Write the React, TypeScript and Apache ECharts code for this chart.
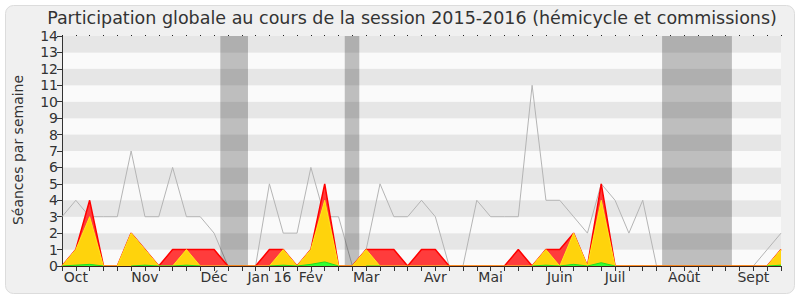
import React, { useEffect, useRef } from "react";
import * as echarts from "echarts";

const weeks: number[] = Array.from({ length: 53 }, (_, i) => i);

const totalSeances: number[] = [3, 4, 3, 3, 3, 7, 3, 3, 6, 3, 3, 2, 0, 0, 0, 5, 2, 2, 6, 3, 3, 0, 1, 5, 3, 3, 4, 3, 0, 0, 4, 3, 3, 3, 11, 4, 4, 3, 2, 5, 4, 2, 4, 0, 0, 0, 0, 0, 0, 0, 0, 1, 2];
const presences: number[] = [0, 1, 4, 0, 0, 2, 1, 0, 1, 1, 1, 1, 0, 0, 0, 1, 1, 0, 1, 5, 0, 0, 1, 1, 1, 0, 1, 1, 0, 0, 0, 0, 0, 1, 0, 1, 1, 2, 0, 5, 0, 0, 0, 0, 0, 0, 0, 0, 0, 0, 0, 0, 1];
const participations: number[] = [0, 1, 3, 0, 0, 2, 1, 0, 0, 1, 0, 0, 0, 0, 0, 0, 1, 0, 1, 4, 0, 0, 1, 0, 0, 0, 0, 0, 0, 0, 0, 0, 0, 0, 0, 1, 0, 2, 0, 4, 0, 0, 0, 0, 0, 0, 0, 0, 0, 0, 0, 0, 1];
const questions: (number | null)[] = [0, 0.05, 0.1, 0, null, 0, 0.05, 0, 0, 0.05, 0, null, null, null, null, 0, 0.05, 0, 0.1, 0.25, 0, null, 0, 0, null, null, null, null, null, null, null, null, null, null, 0, 0.05, 0, 0.1, 0, 0.2, 0, null, null, null, null, null, null, null, null, null, null, 0, 0.05];

const monthLabels: string[] = ["Oct", "Nov", "Déc", "Jan 16", "Fév", "Mar", "Avr", "Mai", "Juin", "Juil", "Août", "Sept"];
const monthIdx: number[] = [1, 6, 11, 15, 18, 22, 27, 31, 36, 40, 45, 50];

const vacances: [number, number][] = [[11.45, 13.45], [20.45, 21.5], [43.4, 48.45]];

const FONT = "DejaVu Sans";

export default function App() {
  const ref = useRef<HTMLDivElement>(null);
  useEffect(() => {
    if (!ref.current) return;
    const chart = echarts.init(ref.current, null, { renderer: "svg" });
    const pts = (arr: (number | null)[]) => weeks.map((w, i) => [w, arr[i]]);
    const labelMap: Record<number, string> = {};
    monthIdx.forEach((m, k) => (labelMap[m] = monthLabels[k]));
    chart.setOption({
      animation: false,
      backgroundColor: "#ffffff",
      textStyle: { fontFamily: FONT },
      grid: { left: 62, right: 19, top: 36, bottom: 34 },
      graphic: [
        {
          type: "rect",
          shape: { x: 5.5, y: 5.5, width: 789, height: 288, r: 8 },
          style: { fill: "#f0f0f0", stroke: "#dcdcdc", lineWidth: 1 },
          z: -10,
          silent: true,
        },
        {
          type: "text",
          x: 412,
          y: 18,
          style: {
            text: "Participation globale au cours de la session 2015-2016 (hémicycle et commissions)",
            font: `17.5px '${FONT}'`,
            fill: "#333333",
            textAlign: "center",
            textVerticalAlign: "middle",
          },
          z: 10,
        },
        {
          type: "text",
          x: 18,
          y: 150,
          rotation: Math.PI / 2,
          style: {
            text: "Séances par semaine",
            font: `14px '${FONT}'`,
            fill: "#333333",
            textAlign: "center",
            textVerticalAlign: "middle",
          },
          z: 10,
        },
      ],
      xAxis: [
        {
          type: "value",
          min: 0,
          max: 52,
          interval: 1,
          z: 10,
          axisLine: { show: true, lineStyle: { color: "#3a2018", width: 1 } },
          axisTick: { show: true, length: 5, lineStyle: { color: "#333333" } },
          splitLine: { show: false },
          axisLabel: {
            show: true,
            interval: 0,
            margin: 4,
            color: "#333333",
            fontSize: 14,
            fontFamily: FONT,
            formatter: (v: number) => labelMap[v] ?? "",
          },
        },
        {
          type: "value",
          position: "top",
          min: 0,
          max: 52,
          interval: 1,
          axisLine: { show: false },
          axisTick: { show: true, length: 1, lineStyle: { color: "#222222" } },
          splitLine: { show: false },
          axisLabel: { show: false },
        },
      ],
      yAxis: {
        type: "value",
        min: 0,
        max: 14,
        interval: 1,
        axisLine: { show: true, lineStyle: { color: "#333333" } },
        axisTick: { show: true, length: 5, lineStyle: { color: "#333333" } },
        axisLabel: { color: "#333333", fontSize: 14, fontFamily: FONT, margin: 4 },
        splitLine: { show: false },
        splitArea: { show: true, areaStyle: { color: ["#fafafa", "#e6e6e6"] } },
      },
      series: [
        {
          type: "line",
          name: "Séances",
          data: pts(totalSeances),
          symbol: "none",
          z: 1,
          lineStyle: { color: "#b4b4b4", width: 1 },
        },
        {
          type: "line",
          name: "vacances",
          data: [],
          z: 2,
          markArea: {
            silent: true,
            z: 2,
            itemStyle: { color: "rgba(0,0,0,0.24)" },
            data: vacances.map(([a, b]) => [{ xAxis: a }, { xAxis: b }]),
          },
        },
        {
          type: "line",
          name: "Présences",
          data: pts(presences),
          symbol: "none",
          z: 3,
          lineStyle: { color: "#ff0000", width: 1.5 },
          areaStyle: { color: "#ff3c3c", opacity: 1 },
        },
        {
          type: "line",
          name: "Participations",
          data: pts(participations),
          symbol: "none",
          z: 4,
          lineStyle: { color: "#ffe81a", width: 1 },
          areaStyle: { color: "#ffd30c", opacity: 1 },
        },
        {
          type: "line",
          name: "Questions",
          data: pts(questions),
          symbol: "none",
          z: 5,
          connectNulls: false,
          lineStyle: { color: "#22dd22", width: 1 },
          areaStyle: { color: "#33ff33", opacity: 1 },
        },
      ],
    });
    return () => chart.dispose();
  }, []);
  return <div ref={ref} style={{ position: "fixed", left: 0, top: 0, width: 800, height: 300 }} />;
}
